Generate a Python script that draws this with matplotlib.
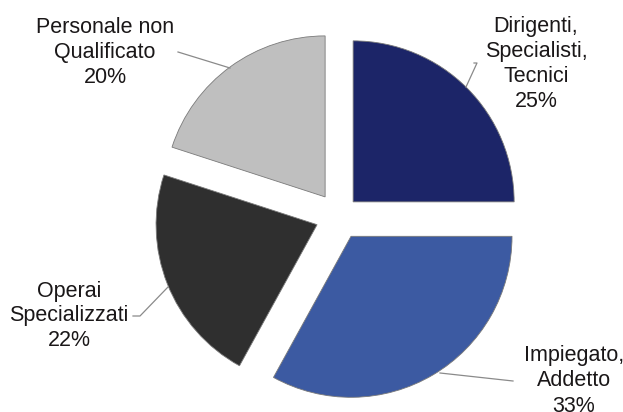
import matplotlib.pyplot as plt

# data
categories = ['Dirigenti,\nSpecialisti,\nTecnici', 'Impiegato,\nAddetto',
              'Operai\nSpecializzati', 'Personale non\nQualificato']
shares = [25, 33, 22, 20]
colors = ['#1c2568', '#3c5aa2', '#2f2f2f', '#bfbfbf']

# label text centre and leader line (pixel coords, y from top)
label_pos = [(536, 64), (574, 381), (69, 316), (105, 52)]
leaders = [[(474, 63), (477, 63), (466, 87)],
           [(513, 381), (440, 373)],
           [(133, 316), (140, 316), (168, 287)],
           [(178, 52), (230, 68)]]

W, H = 623, 412
fig = plt.figure(figsize=(W / 100, H / 100), dpi=100)
ax = fig.add_axes([0, 0, 1, 1])
ax.axis('off')

ax.pie(shares, colors=colors, startangle=90, counterclock=False,
       radius=161, center=(339, H - 216), explode=[20, 23.6, 23.6, 23.6],
       wedgeprops=dict(edgecolor='#7a7a7a', linewidth=0.6))
ax.set_xlim(0, W)
ax.set_ylim(0, H)
ax.set_aspect('equal')

for cat, share, (tx, ty), pts in zip(categories, shares, label_pos, leaders):
    ax.text(tx, H - ty, f'{cat}\n{share}%', ha='center', va='center',
            fontsize=15.5, family='Liberation Sans', color='#1a1718',
            linespacing=1.25)
    ax.plot([p[0] for p in pts], [H - p[1] for p in pts], color='#8a8a8a', lw=0.9)

fig.savefig('out.png', dpi=100)
